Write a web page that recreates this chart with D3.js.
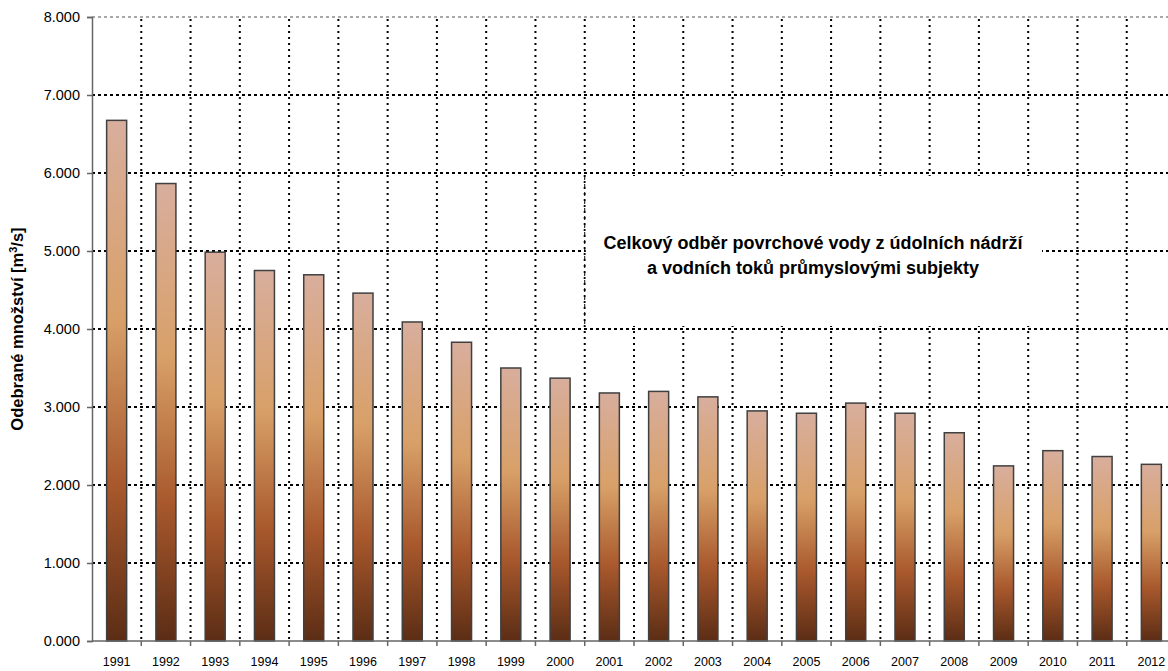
<!DOCTYPE html>
<html>
<head>
<meta charset="utf-8">
<script src="https://cdn.jsdelivr.net/npm/d3@7"></script>
<style>
  body { margin: 0; background: #fff; }
  svg { display: block; font-family: "Liberation Sans", Arial, sans-serif; }
</style>
</head>
<body>
<svg width="1168" height="671"></svg>
<script>
const years = ["1991","1992","1993","1994","1995","1996","1997","1998","1999","2000","2001",
  "2002","2003","2004","2005","2006","2007","2008","2009","2010","2011","2012"];
const values = [6.675, 5.865, 4.985, 4.75, 4.695, 4.46, 4.09, 3.83, 3.5, 3.37, 3.18,
  3.2, 3.13, 2.95, 2.92, 3.05, 2.92, 2.67, 2.245, 2.44, 2.365, 2.265];
const yTicks = [0, 1, 2, 3, 4, 5, 6, 7, 8];
const title = ["Celkový odběr povrchové vody z údolních nádrží", "a vodních toků průmyslovými subjekty"];
const yTitle = "Odebrané množství [m";

const svg = d3.select('svg');
const plotLeft = 92, plotTop = 17, plotBottom = 641, plotRight = 1176;

const x = d3.scaleBand()
  .domain(years)
  .range([plotLeft, plotRight])
  .paddingInner(0.594)
  .paddingOuter(0.297);
const y = d3.scaleLinear().domain([0, 8]).range([plotBottom, plotTop]);
const step = x.step();
const boundary = d => x(d) - (step - x.bandwidth()) / 2;

// gradient for bars
const grad = svg.append('defs').append('linearGradient')
  .attr('id', 'barGrad')
  .attr('x1', 0).attr('y1', 0).attr('x2', 0).attr('y2', 1);
[[0, '#d8ae9d'], [0.38, '#d8a068'], [0.7, '#a8582c'], [1, '#5b2d15']].forEach(s => {
  grad.append('stop').attr('offset', s[0]).attr('stop-color', s[1]);
});

// horizontal grid
svg.append('g').selectAll('line')
  .data(yTicks.filter(t => t > 0))
  .enter().append('line')
  .attr('x1', plotLeft).attr('x2', plotRight)
  .attr('y1', d => y(d)).attr('y2', d => y(d))
  .attr('stroke', d => d === 8 ? '#a8a8a8' : '#000')
  .attr('stroke-width', 2)
  .attr('stroke-dasharray', '3,3');

// vertical grid at category boundaries
svg.append('g').selectAll('line')
  .data(years.slice(1))
  .enter().append('line')
  .attr('x1', d => boundary(d)).attr('x2', d => boundary(d))
  .attr('y1', plotTop + 2).attr('y2', plotBottom)
  .attr('stroke', '#000')
  .attr('stroke-width', 2)
  .attr('stroke-dasharray', '2,4');

// title box
const boxX = boundary("2001") + 1;
svg.append('rect')
  .attr('x', boxX).attr('y', y(6) + 3)
  .attr('width', 1042 - boxX).attr('height', y(4) - y(6) - 6)
  .attr('fill', '#fff');
svg.append('line')
  .attr('x1', boxX - 1).attr('x2', boxX - 1)
  .attr('y1', y(6) + 3).attr('y2', y(4) - 3)
  .attr('stroke', '#000').attr('stroke-width', 1)
  .attr('stroke-dasharray', '4,4');

const tt = svg.append('text')
  .attr('x', 813).attr('y', 249)
  .attr('text-anchor', 'middle')
  .style('font-weight', 'bold')
  .style('font-size', '18px');
tt.append('tspan').attr('x', 813).text(title[0]);
tt.append('tspan').attr('x', 813).attr('dy', 25).text(title[1]);

// bars
svg.append('g').selectAll('rect')
  .data(years)
  .enter().append('rect')
  .attr('x', d => x(d))
  .attr('y', (d, i) => y(values[i]))
  .attr('width', x.bandwidth())
  .attr('height', (d, i) => plotBottom - y(values[i]))
  .attr('fill', 'url(#barGrad)')
  .attr('stroke', '#404040')
  .attr('stroke-width', 1.5);

// y axis
const yAxis = d3.axisLeft(y).tickValues(yTicks).tickFormat(d => d.toFixed(3)).tickSize(5).tickPadding(7);
const ga = svg.append('g').attr('transform', `translate(${plotLeft},0)`).call(yAxis);
ga.select('.domain').attr('stroke', '#666').attr('stroke-width', 1.5);
ga.selectAll('.tick line').attr('stroke', '#666').attr('stroke-width', 1.5);
ga.selectAll('text').style('font-size', '14.5px').attr('fill', '#000');

// x axis
const xAxis = d3.axisBottom(x).tickSize(0).tickPadding(16);
const gx = svg.append('g').attr('transform', `translate(0,${plotBottom})`).call(xAxis);
gx.select('.domain').remove();
gx.selectAll('text').style('font-size', '12.5px').attr('fill', '#000');
svg.append('line')
  .attr('x1', plotLeft).attr('x2', plotRight)
  .attr('y1', plotBottom).attr('y2', plotBottom)
  .attr('stroke', '#666').attr('stroke-width', 1.5);
svg.append('g').selectAll('line')
  .data(years.slice(1))
  .enter().append('line')
  .attr('x1', d => boundary(d)).attr('x2', d => boundary(d))
  .attr('y1', plotBottom).attr('y2', plotBottom + 5)
  .attr('stroke', '#666').attr('stroke-width', 1.5);

// y title
const yt = svg.append('text')
  .attr('transform', `translate(23,${(plotTop + plotBottom) / 2}) rotate(-90)`)
  .attr('text-anchor', 'middle')
  .style('font-weight', 'bold')
  .style('font-size', '16.5px')
  .text(yTitle);
yt.append('tspan').attr('dy', -6).style('font-size', '11px').text('3');
yt.append('tspan').attr('dy', 6).text('/s]');
</script>
</body>
</html>
